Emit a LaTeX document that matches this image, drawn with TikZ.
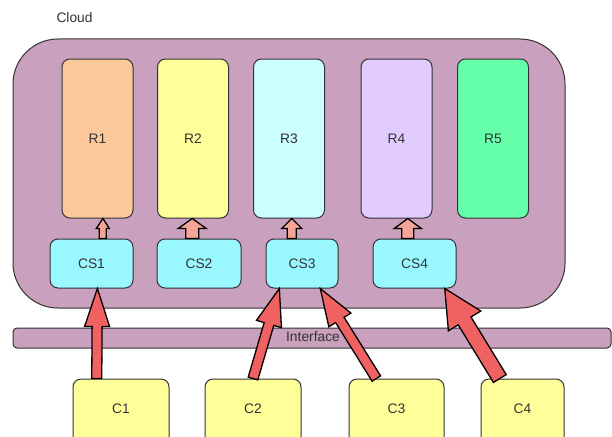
\documentclass[tikz,border=0pt]{standalone}
\usepackage{fontspec}
\setmainfont{Liberation Sans}
\usetikzlibrary{calc}
\definecolor{cloudc}{HTML}{C9A0BD}
\definecolor{r1c}{HTML}{FCC89A}
\definecolor{r2c}{HTML}{FFFF99}
\definecolor{r3c}{HTML}{CCFFFF}
\definecolor{r4c}{HTML}{E2CCFF}
\definecolor{r5c}{HTML}{66FFAA}
\definecolor{csc}{HTML}{99F8FF}
\definecolor{cc}{HTML}{FFFF99}
\definecolor{bigred}{HTML}{F06262}
\definecolor{smallred}{HTML}{F5A596}
\definecolor{txt}{HTML}{333333}
% #1 fill, #2 from, #3 to, #4 shaft half width, #5 head half width, #6 head length
\newcommand\blockarr[6]{%
  \draw[black, line width=1.3pt, fill=#1, line join=miter]
    let \p1=(#2), \p2=(#3), \n1={atan2(\y2-\y1,\x2-\x1)}, \n2={veclen(\x2-\x1,\y2-\y1)} in
    [shift={(\p1)}, rotate=\n1]
    (0,-#4) -- (\n2-#6,-#4) -- (\n2-#6,-#5) -- (\n2,0) -- (\n2-#6,#5) -- (\n2-#6,#4) -- (0,#4) -- cycle;}
\begin{document}
\begin{tikzpicture}[x=1pt,y=-1pt,
  lbl/.style={text=txt, font=\fontsize{13.8}{15}\selectfont},
  box/.style={draw=black!80, line width=1pt, rounded corners=8pt, lbl, inner sep=0pt},
  rbox/.style={box, minimum width=71pt, minimum height=159pt},
  csbox/.style={box, fill=csc, minimum height=49pt},
  cbox/.style={box, fill=cc, minimum height=80pt}]
\useasboundingbox (0,0) rectangle (612,436);
\clip (0,0) rectangle (612,436);
\node[lbl, anchor=west] (cloudlbl) at (53,18) {Cloud};
\node[draw=black!80, line width=1pt, fill=cloudc, rounded corners=45pt, minimum width=552pt, minimum height=269pt] (cloud) at (289,173.5) {};
\node[rbox, fill=r1c] (R1) at (97.5,138.5) {R1};
\node[rbox, fill=r2c] (R2) at (193,138.5) {R2};
\node[rbox, fill=r3c] (R3) at (289,138.5) {R3};
\node[rbox, fill=r4c] (R4) at (396.5,138.5) {R4};
\node[rbox, fill=r5c] (R5) at (493,138.5) {R5};
\node[csbox, minimum width=83pt] (CS1) at (91.5,263.5) {CS1};
\node[csbox, minimum width=84pt] (CS2) at (199,263.5) {CS2};
\node[csbox, minimum width=72pt] (CS3) at (302,263.5) {CS3};
\node[csbox, minimum width=83pt] (CS4) at (414.5,263.5) {CS4};
\node[draw=black!80, line width=1pt, fill=cloudc, rounded corners=4pt, minimum width=598pt, minimum height=20pt, inner sep=0pt] (iface) at (312,338) {};
\node[cbox, minimum width=96pt] (C1) at (121,419) {};
\node[cbox, minimum width=96pt] (C2) at (253,419) {};
\node[cbox, minimum width=95pt] (C3) at (396.5,419) {};
\node[cbox, minimum width=83pt] (C4) at (522.5,419) {};
\node[lbl] (C1l) at (121,409) {C1};
\node[lbl] (C2l) at (253,409) {C2};
\node[lbl] (C3l) at (396.5,409) {C3};
\node[lbl] (C4l) at (522.5,409) {C4};
% small arrows CS -> R
\coordinate (a1) at ($(CS1.north west)!0.635!(CS1.north east)$);
\coordinate (a2) at ($(CS2.north west)!0.42!(CS2.north east)$);
\coordinate (a3) at ($(CS3.north west)!0.36!(CS3.north east)$);
\coordinate (a4) at ($(CS4.north west)!0.42!(CS4.north east)$);
\blockarr{smallred}{a1}{a1 |- R1.south}{3.5}{6.5}{10}
\blockarr{smallred}{a2}{a2 |- R2.south}{6.5}{14}{10}
\blockarr{smallred}{a3}{a3 |- R3.south}{4.5}{10}{10}
\blockarr{smallred}{a4}{a4 |- R4.south}{6}{13.5}{10}
% big arrows C -> CS
\blockarr{bigred}{$(C1.north west)!0.25!(C1.north east)$}{$(CS1.south west)!0.57!(CS1.south east)$}{5}{12.5}{38}
\blockarr{bigred}{C2.north}{$(CS3.south west)!0.19!(CS3.south east)$}{5}{13}{37}
\blockarr{bigred}{$(C3.north west)!0.29!(C3.north east)$}{$(CS3.south west)!0.75!(CS3.south east)$}{5}{13}{37}
\blockarr{bigred}{$(C4.north west)!0.23!(C4.north east)$}{$(CS4.south west)!0.86!(CS4.south east)$}{7.5}{19}{38}
\node[lbl] (ifacelbl) at (313,337) {Interface};
\end{tikzpicture}
\end{document}
